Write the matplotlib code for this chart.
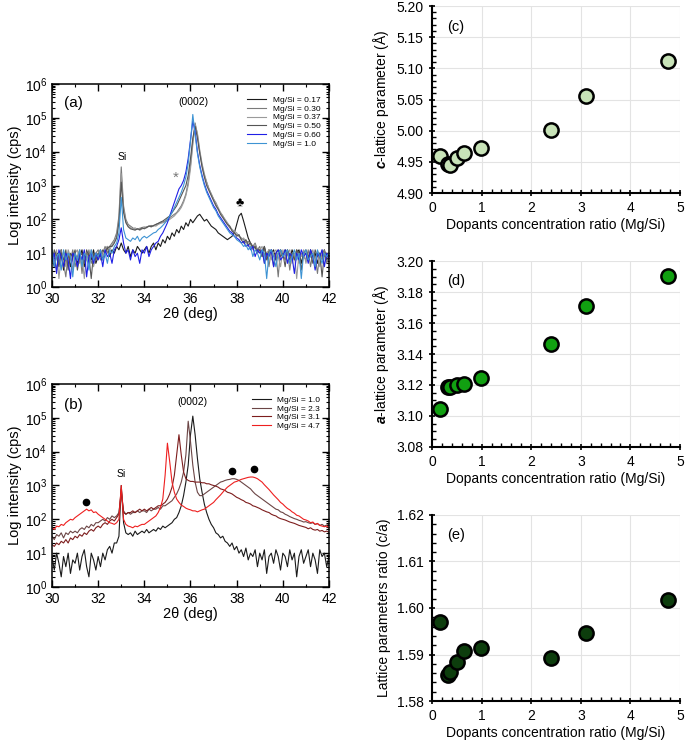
import numpy as np
import matplotlib
matplotlib.use("Agg")
import matplotlib.pyplot as plt
from matplotlib.ticker import MultipleLocator, LogLocator, NullFormatter

plt.rcParams['font.family'] = ['Liberation Sans', 'DejaVu Sans']
plt.rcParams['mathtext.fontset'] = 'custom'
plt.rcParams['mathtext.rm'] = 'Liberation Sans'
plt.rcParams['mathtext.it'] = 'Liberation Sans:italic'
plt.rcParams['mathtext.bf'] = 'Liberation Sans:italic:bold'

# ---- XRD data: 2theta grid 30.0 .. 42.0 (step 0.1), log10 intensity
two_theta = np.round(np.arange(300, 421) / 10.0, 1)

# panel (a)
a_017 = [0.9, 0.6, 1.0, 0.7, 1.1, 0.5, 0.9, 1.0, 0.6, 0.9,
         1.0, 0.7, 0.9, 1.1, 0.6, 0.9, 1.0, 0.8, 1.1, 0.7,
         0.9, 1.1, 0.8, 1.0, 1.2, 0.9, 1.1, 1.0, 1.2, 1.1,
         1.3, 1.1, 1.0, 1.2, 0.9, 1.1, 1.0, 1.2, 1.1, 1.0,
         1.1, 1.2, 1.0, 1.2, 1.3, 1.1, 1.3, 1.2, 1.4, 1.3,
         1.5, 1.4, 1.6, 1.5, 1.7, 1.6, 1.8, 1.7, 1.9, 1.8,
         2.0, 1.9, 2.0, 2.1, 2.15, 2.05, 1.95, 2.0, 1.9, 1.8,
         1.75, 1.7, 1.6, 1.55, 1.5, 1.45, 1.4, 1.45, 1.5, 1.6,
         1.85, 2.1, 2.18, 1.95, 1.7, 1.45, 1.3, 1.2, 1.15, 1.1,
         1.1, 1.0, 1.2, 0.9, 1.1, 1.0, 1.1, 0.8, 1.0, 1.1,
         0.9, 1.1, 1.0, 0.8, 1.1, 0.9, 1.0, 1.1, 0.7, 1.0,
         1.0, 0.8, 1.1, 0.9, 1.0, 0.7, 1.0, 0.9, 1.1, 0.8,
         0.9]
a_030 = [0.8, 1.0, 0.5, 0.9, 1.1, 0.7, 0.3, 1.0, 0.8, 1.1,
         0.6, 0.9, 1.1, 0.4, 1.0, 0.8, 1.1, 0.7, 0.9, 1.0,
         1.1, 0.8, 1.0, 1.2, 1.0, 1.2, 1.3, 1.4, 1.6, 2.1,
         3.55, 2.4, 2.0, 1.85, 1.8, 1.75, 1.7, 1.72, 1.68, 1.72,
         1.75, 1.78, 1.8, 1.82, 1.8, 1.85, 1.88, 1.9, 1.92, 1.95,
         2.0, 2.05, 2.1, 2.15, 2.2, 2.3, 2.4, 2.55, 2.75, 3.1,
         3.6, 4.3, 4.85, 4.5, 4.0, 3.6, 3.3, 3.1, 2.9, 2.75,
         2.6, 2.45, 2.3, 2.2, 2.1, 1.95, 1.85, 1.75, 1.7, 1.6,
         1.55, 1.5, 1.45, 1.4, 1.3, 1.35, 1.25, 1.2, 1.3, 1.1,
         1.2, 0.9, 1.1, 1.0, 0.6, 1.1, 0.9, 1.0, 0.3, 1.1,
         1.0, 0.8, 1.1, 0.5, 1.0, 0.9, 1.1, 0.7, 1.0, 0.9,
         0.8, 1.1, 0.6, 1.0, 0.9, 0.4, 1.0, 0.8, 1.1, 0.7,
         0.9]
a_037 = [1.0, 0.7, 1.1, 0.25, 0.9, 1.0, 0.6, 1.1, 0.9, 0.5,
         1.0, 1.1, 0.7, 0.9, 0.25, 1.0, 0.8, 1.1, 0.6, 0.9,
         1.0, 1.1, 0.9, 1.1, 1.2, 1.1, 1.25, 1.35, 1.5, 2.0,
         3.35, 2.3, 1.95, 1.8, 1.75, 1.72, 1.75, 1.7, 1.74, 1.76,
         1.78, 1.75, 1.8, 1.78, 1.82, 1.8, 1.85, 1.88, 1.9, 1.92,
         1.95, 2.0, 2.05, 2.1, 2.18, 2.25, 2.35, 2.5, 2.7, 3.0,
         3.5, 4.2, 4.8, 4.55, 4.05, 3.65, 3.35, 3.1, 2.9, 2.75,
         2.6, 2.5, 2.35, 2.2, 2.1, 2.0, 1.9, 1.8, 1.7, 1.65,
         1.6, 1.5, 1.4, 1.45, 1.35, 1.2, 1.3, 1.1, 1.25, 1.0,
         1.1, 1.2, 0.7, 1.0, 1.1, 0.8, 1.0, 1.1, 0.9, 0.6,
         1.1, 0.9, 1.0, 1.1, 0.7, 1.0, 0.25, 1.0, 0.9, 1.1,
         0.7, 1.0, 0.9, 1.1, 0.8, 1.0, 0.6, 1.1, 0.9, 1.0,
         0.8]
a_050 = [0.7, 1.1, 0.9, 0.6, 1.0, 0.8, 1.1, 0.5, 1.0, 0.9,
         1.1, 0.5, 0.9, 1.0, 0.7, 1.1, 0.9, 0.25, 1.0, 0.8,
         1.0, 0.9, 1.1, 1.0, 1.15, 1.2, 1.2, 1.3, 1.45, 1.9,
         3.1, 2.2, 1.9, 1.78, 1.72, 1.7, 1.68, 1.72, 1.7, 1.75,
         1.72, 1.76, 1.8, 1.78, 1.82, 1.85, 1.88, 1.92, 1.95, 2.0,
         2.05, 2.1, 2.2, 2.3, 2.4, 2.55, 2.7, 2.85, 3.0, 3.3,
         3.8, 4.4, 4.75, 4.4, 3.95, 3.55, 3.25, 3.0, 2.85, 2.7,
         2.55, 2.4, 2.3, 2.15, 2.05, 1.95, 1.85, 1.8, 1.65, 1.6,
         1.5, 1.55, 1.4, 1.3, 1.4, 1.25, 1.3, 1.15, 1.2, 1.0,
         1.1, 0.9, 1.2, 0.8, 1.0, 1.1, 0.6, 1.0, 1.1, 0.9,
         1.0, 0.6, 1.1, 0.9, 1.0, 0.8, 1.1, 1.0, 0.5, 1.0,
         1.1, 0.9, 1.0, 0.7, 1.1, 0.9, 1.0, 0.3, 1.0, 0.9,
         1.0]
a_060 = [0.8, 1.0, 0.4, 1.1, 0.9, 0.6, 1.0, 0.8, 0.25, 1.0,
         0.9, 0.6, 1.0, 0.8, 1.1, 0.3, 0.9, 1.0, 0.7, 1.0,
         0.8, 1.0, 0.6, 1.1, 0.9, 1.0, 0.7, 1.1, 1.2, 1.4,
         1.75, 1.3, 1.0, 1.1, 0.8, 1.1, 0.9, 1.0, 0.7, 1.1,
         1.0, 1.2, 0.9, 1.1, 1.2, 1.3, 1.35, 1.5, 1.6, 1.75,
         1.9, 2.1, 2.3, 2.5, 2.7, 2.9, 3.0, 3.15, 3.4, 3.8,
         4.35, 4.9, 4.6, 4.0, 3.6, 3.3, 3.05, 2.85, 2.7, 2.55,
         2.4, 2.3, 2.15, 2.05, 1.95, 1.85, 1.75, 1.65, 1.6, 1.5,
         1.45, 1.4, 1.3, 1.35, 1.2, 1.25, 1.1, 1.2, 0.9, 1.1,
         1.0, 1.1, 0.7, 1.0, 0.9, 1.1, 0.6, 1.0, 1.1, 0.8,
         0.9, 1.1, 0.7, 1.0, 0.9, 0.4, 1.0, 0.8, 1.1, 0.9,
         1.0, 0.7, 1.1, 0.9, 0.5, 1.0, 0.9, 1.1, 0.6, 1.0,
         0.8]
a_100 = [1.1, 0.6, 0.9, 1.0, 0.5, 1.1, 0.8, 1.0, 0.9, 0.3,
         1.0, 0.8, 1.1, 0.6, 1.0, 0.9, 0.5, 1.1, 0.8, 1.0,
         0.9, 1.1, 0.8, 1.0, 0.7, 1.1, 1.0, 1.2, 1.3, 1.6,
         2.65, 1.7, 1.45, 1.4, 1.35, 1.45, 1.4, 1.5, 1.35, 1.45,
         1.5, 1.45, 1.5, 1.55, 1.6, 1.62, 1.7, 1.75, 1.82, 1.9,
         2.0, 2.1, 2.2, 2.35, 2.5, 2.65, 2.8, 3.0, 3.25, 3.65,
         4.3, 5.1, 4.5, 3.95, 3.55, 3.25, 3.0, 2.8, 2.65, 2.5,
         2.35, 2.25, 2.1, 2.0, 1.9, 1.8, 1.7, 1.6, 1.55, 1.5,
         1.4, 1.35, 1.3, 1.2, 1.25, 1.1, 1.2, 0.9, 1.1, 1.0,
         0.8, 1.1, 1.0, 0.25, 1.0, 1.1, 0.9, 0.6, 1.0, 1.1,
         0.9, 1.0, 1.1, 0.7, 0.9, 1.1, 0.8, 1.0, 0.25, 1.0,
         1.1, 0.8, 0.9, 1.0, 0.6, 1.1, 0.9, 0.7, 1.0, 0.9,
         1.0]

# panel (b)
b_10 = [0.9, 0.5, 1.0, 0.7, 0.3, 0.9, 0.6, 1.0, 0.4, 0.8,
        0.7, 1.0, 0.5, 0.9, 1.1, 0.6, 0.3, 1.0, 0.8, 0.5,
        0.9, 0.6, 1.0, 0.8, 1.1, 1.2, 1.0, 1.3, 1.3, 1.5,
        3.0, 1.9, 1.6, 1.55, 1.6, 1.5, 1.65, 1.55, 1.6, 1.65,
        1.6, 1.7, 1.6, 1.65, 1.7, 1.65, 1.75, 1.7, 1.8, 1.75,
        1.8, 1.85, 1.9, 2.0, 2.05, 2.2, 2.4, 2.7, 3.1, 3.6,
        4.5, 5.05, 4.5, 3.8, 3.2, 2.8, 2.45, 2.2, 2.0, 1.85,
        1.75, 1.6, 1.55, 1.45, 1.5, 1.35, 1.3, 1.2, 1.3, 1.1,
        1.2, 1.0, 1.1, 0.9, 1.15, 0.8, 1.0, 0.9, 1.1, 0.6,
        1.0, 0.8, 1.1, 0.4, 0.9, 1.0, 0.7, 1.1, 0.9, 0.5,
        1.0, 0.9, 0.6, 1.1, 0.8, 1.0, 0.3, 0.9, 1.1, 0.7,
        0.9, 1.1, 0.6, 1.0, 0.8, 0.4, 1.1, 0.9, 1.0, 0.6,
        0.9]
b_23 = [1.5, 1.4, 1.55, 1.5, 1.6, 1.45, 1.6, 1.55, 1.65, 1.6,
        1.65, 1.6, 1.7, 1.75, 1.7, 1.8, 1.75, 1.85, 1.8, 1.9,
        1.9, 1.95, 2.0, 1.95, 2.05, 2.0, 2.1, 2.05, 2.1, 2.2,
        2.8, 2.25, 2.15, 2.2, 2.15, 2.2, 2.2, 2.25, 2.2, 2.25,
        2.25, 2.2, 2.3, 2.25, 2.3, 2.3, 2.35, 2.3, 2.4, 2.4,
        2.45, 2.5, 2.55, 2.65, 2.75, 2.9, 3.1, 3.4, 3.9, 4.9,
        4.3, 3.6, 3.1, 2.8, 2.7, 2.7, 2.75, 2.8, 2.85, 2.9,
        2.95, 3.0, 3.05, 3.1, 3.12, 3.15, 3.17, 3.18, 3.2, 3.2,
        3.18, 3.15, 3.1, 3.05, 3.0, 2.95, 2.9, 2.82, 2.75, 2.7,
        2.65, 2.6, 2.55, 2.5, 2.45, 2.4, 2.35, 2.3, 2.28, 2.22,
        2.2, 2.15, 2.12, 2.08, 2.05, 2.02, 2.0, 1.97, 1.95, 1.92,
        1.93, 1.9, 1.88, 1.9, 1.85, 1.87, 1.82, 1.85, 1.8, 1.83,
        1.85]
b_31 = [1.25, 1.2, 1.3, 1.25, 1.35, 1.3, 1.4, 1.3, 1.45, 1.4,
        1.5, 1.45, 1.55, 1.5, 1.6, 1.55, 1.65, 1.7, 1.65, 1.75,
        1.8, 1.75, 1.85, 1.9, 1.85, 1.95, 2.0, 1.95, 2.05, 2.15,
        2.9, 2.2, 2.15, 2.2, 2.2, 2.25, 2.2, 2.25, 2.3, 2.25,
        2.3, 2.25, 2.3, 2.35, 2.3, 2.35, 2.4, 2.4, 2.45, 2.5,
        2.6, 2.75, 2.95, 3.3, 3.9, 4.5, 3.9, 3.4, 3.2, 3.15,
        3.12, 3.12, 3.1, 3.1, 3.1, 3.08, 3.08, 3.05, 3.05, 3.02,
        3.0, 2.98, 2.95, 2.9, 2.88, 2.85, 2.8, 2.78, 2.75, 2.7,
        2.65, 2.62, 2.58, 2.55, 2.5, 2.48, 2.45, 2.4, 2.38, 2.35,
        2.32, 2.28, 2.25, 2.22, 2.2, 2.15, 2.12, 2.1, 2.05, 2.02,
        2.0, 1.98, 1.95, 1.92, 1.9, 1.88, 1.85, 1.82, 1.8, 1.78,
        1.76, 1.72, 1.75, 1.7, 1.68, 1.7, 1.65, 1.67, 1.63, 1.65,
        1.62]
b_47 = [1.75, 1.7, 1.8, 1.78, 1.85, 1.82, 1.9, 1.95, 2.0, 1.98,
        2.05, 2.1, 2.15, 2.2, 2.25, 2.3, 2.25, 2.28, 2.2, 2.22,
        2.15, 2.1, 2.05, 2.0, 1.95, 1.9, 1.88, 1.85, 1.9, 2.0,
        3.0, 2.0, 1.85, 1.8, 1.78, 1.75, 1.8, 1.78, 1.82, 1.85,
        1.85, 1.9, 1.95, 2.0, 2.05, 2.1, 2.2, 2.35, 2.6, 3.3,
        4.25, 3.7, 3.1, 2.8, 2.6, 2.5, 2.42, 2.38, 2.33, 2.3,
        2.28, 2.25, 2.25, 2.22, 2.25, 2.28, 2.3, 2.35, 2.4, 2.45,
        2.5, 2.58, 2.65, 2.72, 2.8, 2.88, 2.95, 3.0, 3.05, 3.1,
        3.12, 3.15, 3.18, 3.2, 3.22, 3.24, 3.25, 3.25, 3.23, 3.2,
        3.15, 3.1, 3.02, 2.95, 2.88, 2.8, 2.72, 2.65, 2.58, 2.5,
        2.45, 2.38, 2.32, 2.28, 2.22, 2.18, 2.12, 2.1, 2.05, 2.0,
        1.98, 1.95, 1.9, 1.92, 1.85, 1.88, 1.82, 1.8, 1.78, 1.8,
        1.75]

labels_a = ['Mg/Si = 0.17', 'Mg/Si = 0.30', 'Mg/Si = 0.37',
            'Mg/Si = 0.50', 'Mg/Si = 0.60', 'Mg/Si = 1.0']
colors_a = ['#1a1a1a', '#7a7a7a', '#9a9a9a', '#555555', '#1f1fe6', '#3d93d3']
labels_b = ['Mg/Si = 1.0', 'Mg/Si = 2.3', 'Mg/Si = 3.1', 'Mg/Si = 4.7']
colors_b = ['#1a1a1a', '#6b4545', '#7d1d1d', '#ee1f1f']

# phase markers in (b): ● positions (2theta, log10 I)
dot_x = [31.47, 37.79, 38.75]
dot_y = [2.5, 3.43, 3.49]

# ---- lattice parameters
ratio = [0.17, 0.33, 0.37, 0.50, 0.65, 0.98, 2.40, 3.10, 4.75]
c_param = [4.959, 4.946, 4.945, 4.956, 4.965, 4.972, 5.001, 5.056, 5.111]
a_param = [3.1047, 3.1187, 3.1185, 3.1198, 3.1209, 3.1245, 3.1465, 3.1707, 3.1905]
ca_ratio = [1.5970, 1.5857, 1.5862, 1.5883, 1.5908, 1.5913, 1.5893, 1.5946, 1.6018]

fig = plt.figure(figsize=(6.85, 7.43), dpi=100)


def xrd_axes(ax):
    ax.set_yscale('log')
    ax.set_xlim(30, 42)
    ax.set_ylim(1, 1e6)
    ax.xaxis.set_major_locator(MultipleLocator(2))
    ax.xaxis.set_minor_locator(MultipleLocator(1))
    ax.yaxis.set_major_locator(LogLocator(base=10, numticks=10))
    ax.yaxis.set_minor_locator(LogLocator(base=10, subs=np.arange(2, 10), numticks=20))
    ax.yaxis.set_minor_formatter(NullFormatter())
    ax.tick_params(which='both', direction='in', top=True, right=True, labelsize=10)
    ax.tick_params(which='major', length=5, width=1)
    ax.tick_params(which='minor', length=2.5, width=0.8)
    for s in ax.spines.values():
        s.set_linewidth(1.1)
    ax.set_xlabel('2θ (deg)', fontsize=10.5, labelpad=1)
    ax.set_ylabel('Log intensity (cps)', fontsize=10.5, labelpad=2)


# (a)
ax_a = fig.add_axes([0.0759, 0.6137, 0.4044, 0.2732])
for ys, lab, col in zip([a_017, a_030, a_037, a_050, a_060, a_100], labels_a, colors_a):
    ax_a.plot(two_theta, 10 ** np.array(ys), color=col, lw=0.8, label=lab)
xrd_axes(ax_a)
ax_a.legend(loc='upper right', bbox_to_anchor=(0.99, 0.97), fontsize=6, frameon=False,
            handlelength=2.3, labelspacing=0.12, borderpad=0.2)
ax_a.text(30.5, 10 ** 5.45, '(a)', fontsize=11, va='center')
ax_a.text(36.12, 10 ** 5.48, '(0002)', fontsize=7.5, ha='center', va='center')
ax_a.text(33.02, 10 ** 3.85, 'Si', fontsize=7.5, ha='center', va='center')
ax_a.text(35.36, 10 ** 3.22, '*', fontsize=11, color='#777777', ha='center', va='center')
ax_a.text(38.15, 10 ** 2.49, '♣', fontsize=9, ha='center', va='center')

# (b)
ax_b = fig.add_axes([0.0759, 0.2100, 0.4044, 0.2732])
for ys, lab, col in zip([b_10, b_23, b_31, b_47], labels_b, colors_b):
    ax_b.plot(two_theta, 10 ** np.array(ys), color=col, lw=0.8, label=lab)
xrd_axes(ax_b)
ax_b.legend(loc='upper right', bbox_to_anchor=(0.99, 0.97), fontsize=6, frameon=False,
            handlelength=2.3, labelspacing=0.12, borderpad=0.2)
ax_b.plot(dot_x, 10 ** np.array(dot_y), 'o', color='black', ms=4.5, ls='none')
ax_b.text(30.5, 10 ** 5.38, '(b)', fontsize=11, va='center')
ax_b.text(36.08, 10 ** 5.46, '(0002)', fontsize=7.5, ha='center', va='center')
ax_b.text(32.98, 10 ** 3.34, 'Si', fontsize=7.5, ha='center', va='center')


def lattice_axes(ax, ys, color, ylim, ystep, yminor, fmt, ylabel, tag):
    ax.scatter(ratio, ys, s=105, color=color, edgecolors='black', linewidths=1.8, zorder=3)
    ax.set_xlim(0, 5)
    ax.set_ylim(*ylim)
    ax.xaxis.set_major_locator(MultipleLocator(1))
    ax.xaxis.set_minor_locator(MultipleLocator(0.2))
    ax.yaxis.set_major_locator(MultipleLocator(ystep))
    ax.yaxis.set_minor_locator(MultipleLocator(yminor))
    ax.yaxis.set_major_formatter(plt.FormatStrFormatter(fmt))
    ax.grid(True, which='major', color='#e3e3e3', lw=0.8)
    ax.set_axisbelow(True)
    for side in ['top', 'right']:
        ax.spines[side].set_visible(False)
    for side in ['left', 'bottom']:
        ax.spines[side].set_linewidth(1.5)
    ax.tick_params(which='major', direction='inout', length=5, width=1.2, labelsize=10)
    ax.tick_params(which='minor', direction='in', length=3, width=1)
    ax.set_xlabel('Dopants concentration ratio (Mg/Si)', fontsize=10, labelpad=2)
    ax.set_ylabel(ylabel, fontsize=10, labelpad=4)
    ax.text(0.06, 0.89, tag, transform=ax.transAxes, fontsize=10.5, va='center')


ax_c = fig.add_axes([0.6307, 0.7402, 0.362, 0.2517])
lattice_axes(ax_c, c_param, '#c8e3b8', (4.90, 5.20), 0.05, 0.01, '%.2f',
             r'$\mathbf{c}$-lattice parameter (Å)', '(c)')
ax_d = fig.add_axes([0.6307, 0.3984, 0.362, 0.2503])
lattice_axes(ax_d, a_param, '#11a011', (3.08, 3.20), 0.02, 0.005, '%.2f',
             r'$\mathbf{a}$-lattice parameter (Å)', '(d)')
ax_e = fig.add_axes([0.6307, 0.0565, 0.362, 0.2504])
lattice_axes(ax_e, ca_ratio, '#0d3d0d', (1.58, 1.62), 0.01, 0.002, '%.2f',
             'Lattice parameters ratio (c/a)', '(e)')

fig.savefig('out.png', dpi=100)
